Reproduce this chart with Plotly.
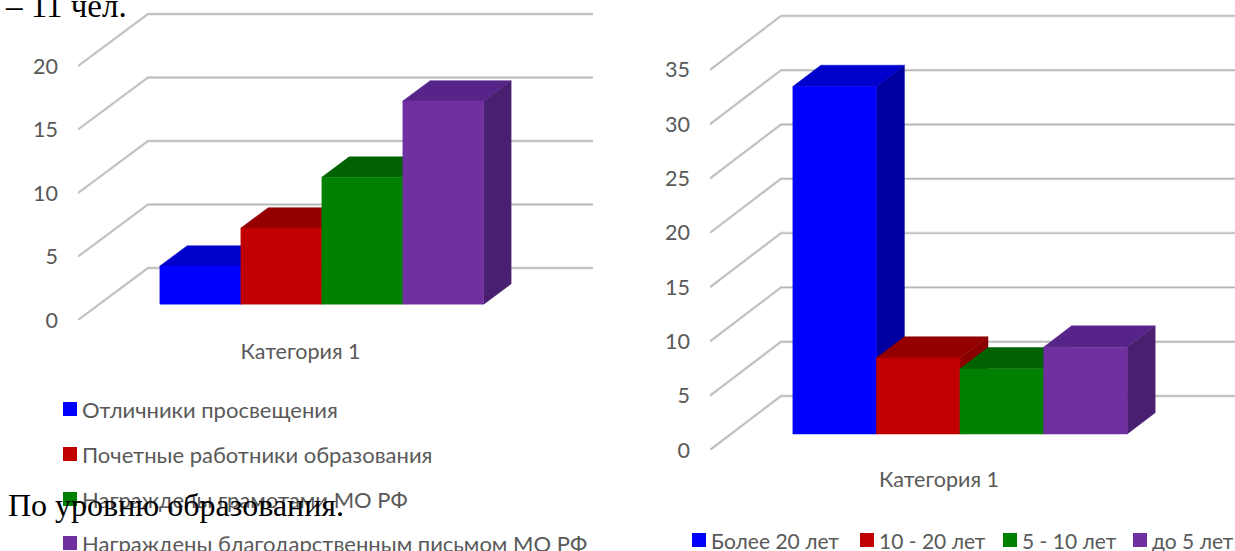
import plotly.graph_objects as go

W, H = 1235, 551

# ---- data ----
left_series = ["Отличники просвещения", "Почетные работники образования",
               "Награждены грамотами МО РФ", "Награждены благодарственным письмом МО РФ"]
left_values = [3, 6, 10, 16]
left_ticks = [0, 5, 10, 15, 20]

right_series = ["Более 20 лет", "10 - 20 лет", "5 - 10 лет", "до 5 лет"]
right_values = [32, 7, 6, 8]
right_ticks = [0, 5, 10, 15, 20, 25, 30, 35]

category = "Категория 1"

front_colors = ["#0000ff", "#c00000", "#008000", "#7030a0"]
top_colors = ["#0000cc", "#940000", "#006200", "#572489"]
side_colors = ["#0000a0", "#8a0000", "#005500", "#48206f"]

GRID = "#b8b8b8"
GRID_SOFT = "#e6e6e6"
TEXT = "#595959"
SANS = "Lato, 'Open Sans', sans-serif"
SERIF = "'Liberation Serif', serif"
FONT_SIZE = 21.5


def px(x):
    return x / W


def py(y):
    return 1 - y / H


fig = go.Figure()


def chart(suffix, series, values, ticks, left, right, plane_w, y0, unit, ddx, ddy, bar_w, d0, d1, cat_gap):
    """left/right/y0 etc. only place the axes; marks come from the values."""
    xa = "x" + suffix
    ya = "y" + suffix
    dx = ddx / plane_w      # full depth in category units
    dy = ddy / unit         # full depth in value units
    n = len(values)
    start = 0.5 - n * bar_w / 2

    def P(x, v, d):
        return x + d * dx, v + d * dy

    # gridlines from the ticks: a soft halo under a thin grey line
    for t in ticks:
        pts = [P(0, t, 0), P(0, t, 1), P(1, t, 1)]
        for color, width in ((GRID_SOFT, 3), (GRID, 1.4)):
            fig.add_trace(go.Scatter(x=[p[0] for p in pts], y=[p[1] for p in pts], mode="lines",
                                     line=dict(color=color, width=width), xaxis=xa, yaxis=ya,
                                     showlegend=False, hoverinfo="skip"))

    def face(pts, color, name):
        pts = pts + pts[:1]
        fig.add_trace(go.Scatter(x=[p[0] for p in pts], y=[p[1] for p in pts], mode="lines",
                                 fill="toself", fillcolor=color, line=dict(color=color, width=0.5),
                                 xaxis=xa, yaxis=ya, showlegend=False, name=name, hoverinfo="name"))

    # painter's order, left to right
    for i, (name, v) in enumerate(zip(series, values)):
        a = start + i * bar_w
        b = a + bar_w
        face([P(b, 0, d0), P(b, 0, d1), P(b, v, d1), P(b, v, d0)], side_colors[i], name)
        face([P(a, v, d0), P(a, v, d1), P(b, v, d1), P(b, v, d0)], top_colors[i], name)
        face([P(a, 0, d0), P(b, 0, d0), P(b, v, d0), P(a, v, d0)], front_colors[i], name)

    key = suffix
    fig.update_layout({
        "xaxis" + key: dict(domain=[px(left), px(right)], range=[0, (right - left) / plane_w],
                            anchor=ya, tickmode="array", tickvals=[0.5], ticktext=[category],
                            showgrid=False, zeroline=False, showline=False, ticks="", automargin=False,
                            tickfont=dict(family=SANS, size=FONT_SIZE, color=TEXT),
                            ticklabelstandoff=cat_gap),
        "yaxis" + key: dict(domain=[py(y0), 1], range=[0, y0 / unit], anchor=xa,
                            tickmode="array", tickvals=ticks,
                            showgrid=False, zeroline=False, showline=False, ticks="", automargin=False,
                            tickfont=dict(family=SANS, size=FONT_SIZE, color=TEXT),
                            ticklabelstandoff=19),
    })


chart("", left_series, left_values, left_ticks, 78, 593, 445, 320, 12.7, 70, 52, 0.182, 0.305, 0.695, 16)
chart("2", right_series, right_values, right_ticks, 710, 1235, 458, 450, 10.86, 71, 54, 0.1825, 0.296, 0.69, 14)

shapes = []
annotations = []


def legend_item(x, yc, text, color, size):
    shapes.append(dict(type="rect", xref="paper", yref="paper", layer="above",
                       x0=px(x), x1=px(x + 14), y0=py(yc + 7), y1=py(yc - 7),
                       fillcolor=color, line=dict(width=0)))
    annotations.append(dict(xref="paper", yref="paper", x=px(x + 17), y=py(yc), text=text,
                            showarrow=False, xanchor="left", yanchor="middle",
                            font=dict(family=SANS, size=size, color=TEXT)))


for name, yc, c in zip(left_series, [409, 454, 499, 543], front_colors):
    legend_item(63, yc, name, c, 22)
for name, xs, c in zip(right_series, [692, 860, 1003, 1133], front_colors):
    legend_item(xs, 540, name, c, 21)

# body text of the surrounding document
annotations.append(dict(xref="paper", yref="paper", x=px(3), y=py(6), text="– 11 чел.",
                        showarrow=False, xanchor="left", yanchor="middle",
                        font=dict(family=SERIF, size=33, color="#000000")))
annotations.append(dict(xref="paper", yref="paper", x=px(6), y=py(505), text="По уровню образования.",
                        showarrow=False, xanchor="left", yanchor="middle",
                        font=dict(family=SERIF, size=32, color="#000000")))

fig.update_layout(width=W, height=H, margin=dict(l=0, r=0, t=0, b=0),
                  paper_bgcolor="white", plot_bgcolor="white", showlegend=False,
                  shapes=shapes, annotations=annotations)

fig.write_html("out.html", config={"displayModeBar": False},
               post_script="document.body.style.margin='0';document.documentElement.style.overflow='hidden';")
